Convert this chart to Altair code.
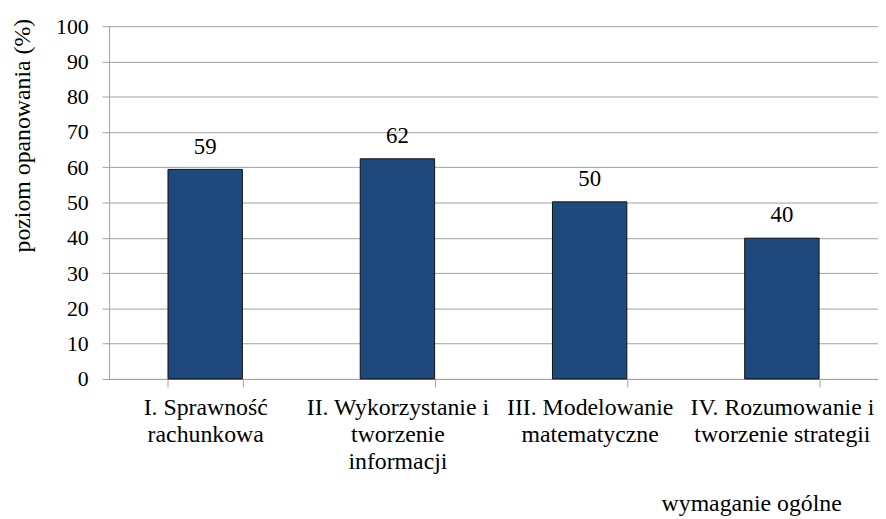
import altair as alt
import pandas as pd

categories = [
    "I. Sprawność|rachunkowa",
    "II. Wykorzystanie i|tworzenie|informacji",
    "III. Modelowanie|matematyczne",
    "IV. Rozumowanie i|tworzenie strategii",
]
values = [59.4, 62.4, 50.2, 39.9]
value_labels = ["59", "62", "50", "40"]
y_ticks = [0, 10, 20, 30, 40, 50, 60, 70, 80, 90, 100]

df = pd.DataFrame({"cat": categories, "val": values, "lab": value_labels})

FONT = "Liberation Serif"
GRAY = "#A0A0A0"

x_enc = alt.X(
    "cat:N",
    sort=categories,
    scale=alt.Scale(paddingInner=0.613, paddingOuter=0.3065),
    axis=alt.Axis(
        title="wymaganie ogólne",
        titleFont=FONT,
        titleFontSize=24,
        titleFontWeight="normal",
        titleColor="#000000",
        titleX=648,
        titleY=133,
        titleAlign="center",
        titleBaseline="alphabetic",
        labelExpr="split(datum.label, '|')",
        labelFont=FONT,
        labelFontSize=24,
        labelColor="#000000",
        labelAngle=0,
        labelLimit=0,
        labelLineHeight=27,
        labelPadding=9,
        labelBaseline="top",
        tickBand="extent",
        tickSize=8,
        tickColor=GRAY,
        domainColor=GRAY,
        grid=False,
    ),
)

y_enc = alt.Y(
    "val:Q",
    scale=alt.Scale(domain=[0, 100]),
    axis=alt.Axis(
        title="poziom opanowania (%)",
        titleFont=FONT,
        titleFontSize=24,
        titleFontWeight="normal",
        titleColor="#000000",
        titleX=-87,
        titleY=110,
        titleAngle=270,
        titleAlign="center",
        titleBaseline="middle",
        values=y_ticks,
        labelFont=FONT,
        labelFontSize=22,
        labelColor="#000000",
        labelPadding=14,
        tickSize=7,
        tickColor=GRAY,
        domainColor=GRAY,
        gridColor=GRAY,
        gridWidth=1,
    ),
)

base = alt.Chart(df).encode(x=x_enc, y=y_enc)

bars = base.mark_bar(color="#1F497D", stroke="#111111", strokeWidth=1)

labels = base.mark_text(
    font=FONT, fontSize=23, color="#000000", baseline="middle", dy=-23
).encode(text="lab:N")

chart = (
    alt.layer(bars, labels)
    .properties(
        width=776,
        height=356,
        autosize=alt.AutoSizeParams(type="none"),
        padding={"left": 102, "top": 16, "right": 0, "bottom": 137},
        background="#FFFFFF",
    )
    .configure_view(stroke=None)
)

chart.save("out.html", embed_options={"renderer": "svg", "actions": False})
